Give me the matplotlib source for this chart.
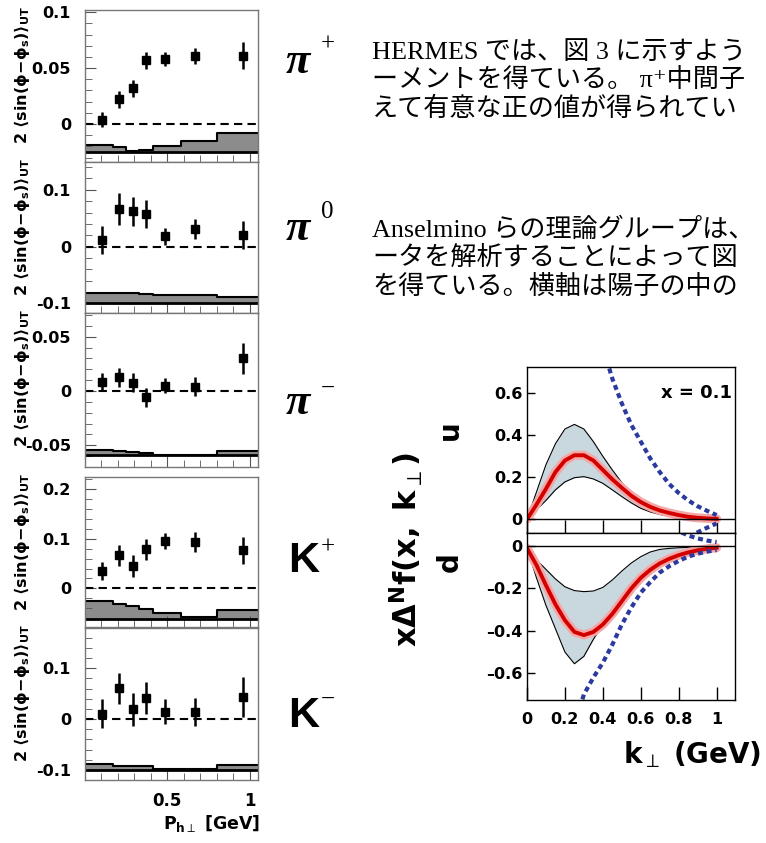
import numpy as np
import matplotlib.pyplot as plt
from matplotlib.ticker import MultipleLocator

plt.rcParams['mathtext.fontset'] = 'dejavusans'
plt.rcParams['axes.unicode_minus'] = False

# ---- data: HERMES Sivers amplitudes vs P_h⊥ ----
pt_x = [0.105, 0.207, 0.289, 0.37, 0.488, 0.67, 0.96]
bin_edges = [0, 0.17, 0.25, 0.33, 0.41, 0.585, 0.8, 1.05]

pip_y = [0.004, 0.022, 0.032, 0.057, 0.058, 0.061, 0.061]
pip_err = [0.0065, 0.0075, 0.0075, 0.0075, 0.006, 0.007, 0.012]
pip_band = [-0.0188, -0.0203, -0.0238, -0.0232, -0.0194, -0.0149, -0.0083]

pi0_y = [0.012, 0.066, 0.062, 0.057, 0.018, 0.031, 0.020]
pi0_err = [0.025, 0.028, 0.026, 0.025, 0.015, 0.018, 0.025]
pi0_band = [-0.082, -0.082, -0.082, -0.084, -0.085, -0.086, -0.088]

pim_y = [0.0086, 0.0126, 0.0077, -0.0058, 0.0049, 0.004, 0.030]
pim_err = [0.008, 0.0088, 0.0085, 0.0085, 0.007, 0.0085, 0.0143]
pim_band = [-0.054, -0.055, -0.056, -0.057, -0.059, -0.059, -0.055]

kp_y = [0.035, 0.067, 0.045, 0.079, 0.0955, 0.093, 0.077]
kp_err = [0.0185, 0.021, 0.0225, 0.021, 0.016, 0.02, 0.027]
kp_band = [-0.025, -0.032, -0.036, -0.042, -0.049, -0.058, -0.044]

km_y = [0.011, 0.0605, 0.019, 0.042, 0.0145, 0.0145, 0.043]
km_err = [0.029, 0.030, 0.032, 0.032, 0.025, 0.028, 0.039]
km_band = [-0.089, -0.092, -0.092, -0.092, -0.099, -0.099, -0.091]

# ---- data: Sivers functions x Δ^N f(x, k⊥) at x = 0.1 ----
k_grid = [0, 0.05, 0.1, 0.15, 0.2, 0.25, 0.3, 0.35, 0.4, 0.45, 0.5,
          0.55, 0.6, 0.65, 0.7, 0.75, 0.8, 0.85, 0.9, 0.95, 1.0]
u_mid = [0, 0.07, 0.145, 0.225, 0.28, 0.305, 0.305, 0.28, 0.235, 0.19, 0.15,
         0.112, 0.082, 0.059, 0.042, 0.03, 0.02, 0.012, 0.007, 0.004, 0.002]
u_hi = [0, 0.13, 0.26, 0.36, 0.43, 0.452, 0.43, 0.37, 0.30, 0.235, 0.175,
        0.12, 0.08, 0.052, 0.033, 0.02, 0.012, 0.007, 0.004, 0.002, 0.001]
u_lo = [0, 0.045, 0.09, 0.14, 0.178, 0.198, 0.203, 0.192, 0.171, 0.14, 0.108,
        0.078, 0.052, 0.035, 0.023, 0.015, 0.009, 0.005, 0.003, 0.002, 0.001]
d_mid = [-0.01, -0.09, -0.185, -0.275, -0.35, -0.405, -0.42, -0.405, -0.37, -0.32, -0.26,
         -0.2, -0.15, -0.112, -0.082, -0.06, -0.043, -0.03, -0.02, -0.013, -0.008]
d_lo = [-0.01, -0.15, -0.28, -0.39, -0.5, -0.555, -0.52, -0.44, -0.37, -0.3, -0.24,
        -0.185, -0.14, -0.103, -0.073, -0.05, -0.034, -0.023, -0.015, -0.01, -0.006]
d_hi = [-0.01, -0.065, -0.11, -0.155, -0.192, -0.21, -0.215, -0.212, -0.195, -0.16, -0.118,
        -0.08, -0.05, -0.028, -0.016, -0.011, -0.008, -0.006, -0.005, -0.004, -0.003]
bound_k = [0.35, 0.4, 0.45, 0.5, 0.55, 0.6, 0.65, 0.7, 0.75, 0.8, 0.85, 0.9, 0.95, 1.0]
u_bound = [1.0, 0.82, 0.67, 0.552, 0.45, 0.37, 0.29, 0.225, 0.168, 0.125, 0.09, 0.062, 0.04, 0.02]
d_bound_k = [0.2, 0.25, 0.3, 0.35, 0.4, 0.45, 0.5, 0.55, 0.6, 0.65, 0.7, 0.75, 0.8, 0.85, 0.9, 0.95, 1.0]
d_bound = [-1.0, -0.85, -0.7, -0.62, -0.55, -0.465, -0.37, -0.29, -0.22, -0.17,
           -0.125, -0.095, -0.07, -0.05, -0.036, -0.026, -0.019]

W, H = 766, 843
fig = plt.figure(figsize=(W / 100, H / 100), dpi=100)


def box(l, t, r, b):
    return [l / W, 1 - b / H, (r - l) / W, (b - t) / H]


BOLD = dict(family='DejaVu Sans', weight='bold')
ylab = r'$\mathbf{2\ \langle sin(\phi\!-\!\phi_s)\rangle_{UT}}$'

panels = [
    # top, bottom, ylim, ticks, tick labels, minor, band base, y, err, band
    (10, 162, (-0.034, 0.102), [0, 0.05, 0.1], ['0', '0.05', '0.1'], 0.01, -0.0247, pip_y, pip_err, pip_band),
    (162, 313, (-0.117, 0.149), [-0.1, 0, 0.1], ['-0.1', '0', '0.1'], 0.02, -0.1, pi0_y, pi0_err, pi0_band),
    (313, 467, (-0.070, 0.0718), [-0.05, 0, 0.05], ['-0.05', '0', '0.05'], 0.01, -0.059, pim_y, pim_err, pim_band),
    (477, 627, (-0.078, 0.225), [0, 0.1, 0.2], ['0', '0.1', '0.2'], 0.02, -0.061, kp_y, kp_err, kp_band),
    (628, 780, (-0.12, 0.1795), [-0.1, 0, 0.1], ['-0.1', '0', '0.1'], 0.02, -0.1, km_y, km_err, km_band),
]

for i, (top, bot, ylim, ticks, labels, minor, base, y, err, band) in enumerate(panels):
    ax = fig.add_axes(box(85, top, 258, bot))
    ax.set_xlim(0, 1.05)
    ax.set_ylim(*ylim)
    band_ext = list(band) + [band[-1]]
    ax.fill_between(bin_edges, base, band_ext, step='post', color='#8c8c8c', lw=0)
    ax.step(bin_edges, band_ext, where='post', color='black', lw=1.5)
    ax.axhline(base, color='black', lw=2)
    ax.axhline(0, color='black', lw=1.5, dashes=(4, 2.5))
    ax.errorbar(pt_x, y, yerr=err, fmt='s', color='black', ms=6, elinewidth=1.8, capsize=0)
    ax.set_yticks(ticks)
    ax.set_yticklabels(labels, fontsize=11.5, **BOLD)
    ax.yaxis.set_minor_locator(MultipleLocator(minor))
    ax.set_xticks([0.5, 1.0])
    ax.xaxis.set_minor_locator(MultipleLocator(0.1))
    ax.tick_params(which='both', direction='in', top=False, right=False, color='#555555')
    ax.tick_params(axis='y', which='major', length=8, pad=10)
    ax.tick_params(axis='y', which='minor', length=5)
    ax.tick_params(axis='x', which='major', length=8, pad=9)
    ax.tick_params(axis='x', which='minor', length=5)
    for s in ax.spines.values():
        s.set_color('#777777')
        s.set_linewidth(1)
    if i < 4:
        ax.set_xticklabels([])
    else:
        ax.set_xticklabels(['0.5', '1'], fontsize=12, **BOLD)
    fig.text(22 / W, 1 - (top - 4) / H, ylab, rotation=90, ha='center', va='top', fontsize=11.5)

fig.text(260 / W, 1 - 823 / H, r'$\mathbf{P}_{\mathbf{h}\perp}$ [GeV]', ha='right', va='center',
         fontsize=12.5, **BOLD)

# particle labels
pi_font = dict(family='Liberation Serif', style='italic', weight='bold', fontsize=32)
sup_font = dict(family='Liberation Serif', fontsize=18)
for yb, sup, ys in [(73, '+', 45), (240, '0', 212), (414, '\u2212', 389)]:
    fig.text(286 / W, 1 - yb / H, '\u03c0', ha='left', va='baseline', **pi_font)
    fig.text(321 / W, 1 - ys / H, sup, ha='left', va='center', **sup_font)
for yb, sup, ys in [(572, '+', 548), (727, '\u2212', 700)]:
    fig.text(288 / W, 1 - yb / H, 'K', ha='left', va='baseline', family='Liberation Sans',
             weight='bold', fontsize=31)
    fig.text(321 / W, 1 - ys / H, sup, ha='left', va='center', **sup_font)

# Japanese text
jp = dict(family=['Liberation Serif', 'Noto Sans CJK JP', 'DejaVu Serif'], fontsize=18.8,
          ha='left', va='baseline')
lines = [
    (59, 'HERMES では、図 3 に示すよう'),
    (87, 'ーメントを得ている。 \u03c0\u207a中間子'),
    (116, 'えて有意な正の値が得られてい'),
    (237, 'Anselmino らの理論グループは、'),
    (265, 'ータを解析することによって図'),
    (294, 'を得ている。横軸は陽子の中の'),
]
for yb, txt in lines:
    fig.text(372 / W, 1 - yb / H, txt, **jp)

# right plot: u and d Sivers functions
red_halo = '#f4a7a7'
band_col = '#c9d8df'
blue = '#2b3a9e'

axu = fig.add_axes(box(527, 367.3, 735, 532.7))
axd = fig.add_axes(box(527, 532.7, 735, 700))
for ax, mid, lo, hi, bk, bnd, ylim in [
        (axu, u_mid, u_lo, u_hi, bound_k, u_bound, (-0.064, 0.724)),
        (axd, d_mid, d_lo, d_hi, d_bound_k, d_bound, (-0.726, 0.063))]:
    ax.set_xlim(0, 1.097)
    ax.set_ylim(*ylim)
    ax.fill_between(k_grid, lo, hi, color=band_col, lw=0)
    ax.plot(k_grid, lo, color='black', lw=0.8)
    ax.plot(k_grid, hi, color='black', lw=0.8)
    ax.plot(k_grid, mid, color=red_halo, lw=6.5, solid_capstyle='round')
    ax.plot(k_grid, mid, color='#d40000', lw=2.8)
    ax.plot(bk, bnd, color=blue, lw=3, dashes=(1.2, 0.9))
    ax.plot(bk, [-v for v in bnd], color=blue, lw=3, dashes=(1.2, 0.9))
    ax.axhline(0, color='black', lw=1)
    ax.set_xticks([0, 0.2, 0.4, 0.6, 0.8, 1.0])
    ax.tick_params(axis='x', direction='in', length=9.5, width=1, top=False)
    ax.tick_params(axis='y', direction='in', length=6, width=1, pad=3, right=False)
    for s in ax.spines.values():
        s.set_linewidth(1)

axu.set_yticks([0, 0.2, 0.4, 0.6])
axu.set_yticklabels(['0', '0.2', '0.4', '0.6'], fontsize=11.5, **BOLD)
axu.set_xticklabels([])
axd.set_yticks([0, -0.2, -0.4, -0.6])
axd.set_yticklabels(['0', '\u20130.2', '\u20130.4', '\u20130.6'], fontsize=11.5, **BOLD)
axd.set_xticklabels(['0', '0.2', '0.4', '0.6', '0.8', '1'], fontsize=11.5, **BOLD)
axd.tick_params(axis='x', pad=9)

fig.text(732 / W, 1 - 393 / H, 'x = 0.1', ha='right', va='center', fontsize=13, **BOLD)
fig.text(450 / W, 1 - 430 / H, 'u', rotation=90, ha='center', va='center', fontsize=20, **BOLD)
fig.text(450 / W, 1 - 562 / H, 'd', rotation=90, ha='center', va='center', fontsize=20, **BOLD)
fig.text(406 / W, 1 - 550 / H, r'$\mathbf{x\Delta^N f(x,\ k}_{\perp}\mathbf{)}$', rotation=90,
         ha='center', va='center', fontsize=22)
fig.text(623 / W, 1 - 755 / H, r'$\mathbf{k}_{\perp}$ (GeV)', ha='left', va='center',
         fontsize=20, **BOLD)

fig.savefig('out.png', dpi=100)
